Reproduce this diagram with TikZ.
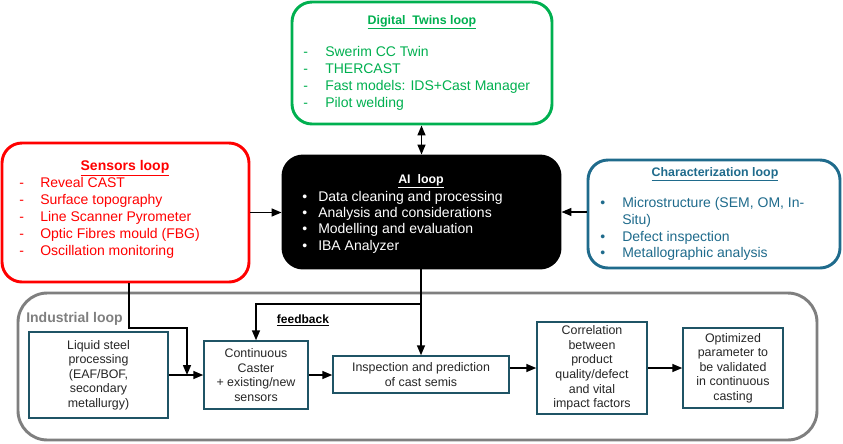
\documentclass[tikz,border=0pt]{standalone}
\usepackage{fontspec}
\setmainfont{Liberation Sans}
\usetikzlibrary{arrows.meta,fit}
\definecolor{twingreen}{HTML}{00B050}
\definecolor{sensred}{HTML}{FF0000}
\definecolor{charblue}{HTML}{1F6B8C}
\definecolor{indgray}{HTML}{7F7F7F}
\definecolor{boxteal}{HTML}{1F5465}
\definecolor{textdark}{HTML}{262626}
\begin{document}
\begin{tikzpicture}[x=0.75pt,y=-0.75pt,
  bigbox/.style={draw, line width=2.2pt, rounded corners=15pt, inner sep=0pt},
  ttl/.style={font=\bfseries\fontsize{9.3}{11}\selectfont, inner sep=0pt, anchor=base},
  item/.style={font=\fontsize{10.5}{12}\selectfont, inner sep=0pt, anchor=base west},
  procbox/.style={draw=boxteal, line width=1.1pt, align=center, text=textdark,
    font=\fontsize{9.3}{10.9}\selectfont, inner sep=0pt},
  arr/.style={line width=1.1pt, -{Triangle[length=7.5pt,width=6pt]}},
  conn/.style={line width=1.1pt},
]
\fill[white] (0,0) rectangle (843,443);
\useasboundingbox (0,0) rectangle (843,443);

% ---- Digital twins loop
\node[bigbox, draw=twingreen, fit={(292,2) (552,124)}] (twins) {};
\node[ttl, text=twingreen] (twinsT) at (422,24) {\underline{Digital\ \ Twins loop}};
\foreach \t [count=\i] in {Swerim CC Twin, THERCAST, {Fast models: IDS+Cast Manager}, Pilot welding}{
  \node[item, text=twingreen] (twd\i) at (303,{56+17.2*(\i-1)}) {-};
  \node[item, text=twingreen] (tw\i) at (325,{56+17.2*(\i-1)}) {\t};
}

% ---- Sensors loop
\node[bigbox, draw=sensred, fit={(2,143) (249,282)}] (sens) {};
\node[ttl, text=sensred, font=\bfseries\fontsize{10.5}{12}\selectfont] (sensT) at (125,170) {\underline{Sensors loop}};
\foreach \t [count=\i] in {Reveal CAST, Surface topography, Line Scanner Pyrometer, {Optic Fibres mould (FBG)}, Oscillation monitoring}{
  \node[item, text=sensred] (sd\i) at (19,{187+17*(\i-1)}) {-};
  \node[item, text=sensred] (s\i) at (40,{187+17*(\i-1)}) {\t};
}

% ---- AI loop
\node[bigbox, draw=black, fill=black, fit={(283,156) (560,268)}] (ai) {};
\node[ttl, text=white] (aiT) at (421,183) {\underline{AI\ \ loop}};
\foreach \t [count=\i] in {Data cleaning and processing, Analysis and considerations, Modelling and evaluation, IBA Analyzer}{
  \node[item, text=white] (aib\i) at (302,{201+16.4*(\i-1)}) {•};
  \node[item, text=white] (ai\i) at (318,{201+16.4*(\i-1)}) {\t};
}

% ---- Characterization loop
\node[bigbox, draw=charblue, fit={(588,160) (840,268)}] (char) {};
\node[ttl, text=charblue] (charT) at (715,176) {\underline{Characterization loop}};
\node[item, text=charblue] (cb1) at (600,207) {•};
\node[item, text=charblue] (c1) at (622,207) {Microstructure (SEM, OM, In-};
\node[item, text=charblue] (c1b) at (622,224) {Situ)};
\node[item, text=charblue] (cb2) at (600,241) {•};
\node[item, text=charblue] (c2) at (622,241) {Defect inspection};
\node[item, text=charblue] (cb3) at (600,257) {•};
\node[item, text=charblue] (c3) at (622,257) {Metallographic analysis};

% ---- Industrial loop
\node[draw=indgray, line width=2.2pt, rounded corners=22pt, inner sep=0pt, fit={(18,293) (817,440)}] (ind) {};
\node[inner sep=0pt, anchor=base west, text=indgray, font=\bfseries\fontsize{10.5}{12}\selectfont] (indT) at (26,322) {Industrial loop};

\node[procbox, minimum width=104.25pt, minimum height=64.5pt] (liq) at (98.5,375) {Liquid steel\\processing\\(EAF/BOF,\\secondary\\metallurgy)};
\node[procbox, minimum width=78pt, minimum height=51pt] (cast) at (256,375) {Continuous\\Caster\\+ existing/new\\sensors};
\node[procbox, minimum width=132pt, minimum height=27.75pt] (insp) at (421,374.5) {Inspection and prediction\\of cast semis};
\node[procbox, minimum width=82.5pt, minimum height=69pt] (corr) at (592,368) {Correlation\\between\\product\\quality/defect\\and vital\\impact factors};
\node[procbox, minimum width=75pt, minimum height=60pt] (opt) at (733,368) {Optimized\\parameter to\\be validated\\in continuous\\casting};

\node[inner sep=0pt, anchor=base, text=black, font=\bfseries\fontsize{9}{11}\selectfont] (fbT) at (303,323) {\underline{feedback}};

% ---- connectors
\draw[line width=1.1pt, {Triangle[length=7.5pt,width=6pt]}-{Triangle[length=7.5pt,width=6pt]}] (ai.north |- twins.south) -- (ai.north);
\draw[arr] (sens.east) -- (sens.east -| ai.west);
\draw[arr] (char.west |- ai.east) -- (ai.east);

\coordinate (s1) at (129,328);
\coordinate (s2) at (187,328);
\draw[arr] (sens.south -| s1) -- (s1) -- (s2) -- (s2 |- liq.east);

\coordinate (fb) at (421,304);
\coordinate (fbl) at (256,304);
\draw[arr] (insp.north |- ai.south) -- (insp.north);
\draw[arr] (fb) -- (fbl) -- (cast.north);

\draw[arr] (liq.east) -- (cast.west);
\draw[arr] (cast.east) -- (cast.east -| insp.west);
\draw[arr] (insp.east |- corr.west) -- (corr.west);
\draw[arr] (corr.east) -- (corr.east -| opt.west);
\end{tikzpicture}
\end{document}
